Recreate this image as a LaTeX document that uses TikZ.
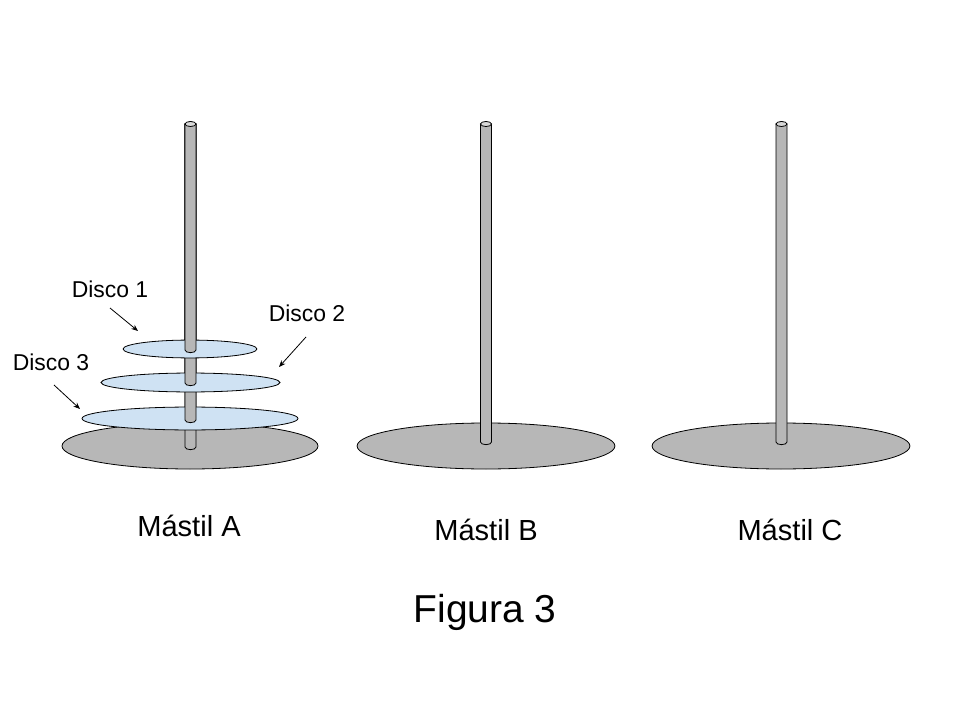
\documentclass[tikz,border=0pt]{standalone}
\usepackage{fontspec}
\setmainfont{Liberation Sans}
\usetikzlibrary{arrows.meta}
\definecolor{basegray}{HTML}{B7B7B7}
\definecolor{rodgray}{HTML}{B7B7B7}
\definecolor{rodtop}{HTML}{D9D9D9}
\definecolor{discblue}{HTML}{CFE2F3}
\tikzset{
  basestyle/.style={fill=basegray, draw=black, line width=0.6pt},
  discstyle/.style={fill=discblue, draw=black, line width=0.6pt},
  rodstyle/.style={fill=rodgray, draw=black, line width=0.6pt},
  rodtopstyle/.style={fill=rodtop, draw=black, line width=0.6pt},
  arr/.style={-{Stealth[length=5pt,width=4pt]}, line width=0.6pt},
  smalllabel/.style={font=\fontsize{17.2pt}{20pt}\selectfont, inner sep=0pt},
  mastlabel/.style={font=\fontsize{21.8pt}{26pt}\selectfont, inner sep=0pt},
  figlabel/.style={font=\fontsize{29.2pt}{34pt}\selectfont, inner sep=0pt}
}
% rod segment: #1 = x center, #2 = top y, #3 = bottom y
\newcommand{\rodseg}[3]{%
  \path[rodstyle] (#1-5.5,#2) -- (#1-5.5,#3)
    arc[start angle=180, end angle=360, x radius=4.125pt, y radius=2pt]
    -- (#1+5.5,#2) -- cycle;}
\newcommand{\rodcap}[2]{%
  \path[rodtopstyle] (#1,#2) ellipse [x radius=4.125pt, y radius=1.9pt];}
\begin{document}
\begin{tikzpicture}[x=0.75pt,y=-0.75pt]
\useasboundingbox (0,0) rectangle (960,720);
\fill[white] (0,0) rectangle (960,720);

% ---- Mast A ----
\path[basestyle] (190,446) ellipse [x radius=96pt, y radius=17.25pt];
\rodseg{190.5}{124}{447}
\path[discstyle] (190,418.5) ellipse [x radius=81pt, y radius=8.6pt];
\rodseg{190.5}{124}{420}
\path[discstyle] (190.5,382.5) ellipse [x radius=67.1pt, y radius=7.1pt];
\rodseg{190.5}{124}{383}
\path[discstyle] (190,349) ellipse [x radius=50.2pt, y radius=6.7pt];
\rodseg{190.5}{124}{350}
\rodcap{190.5}{124}

% ---- Mast B ----
\path[basestyle] (486,446) ellipse [x radius=96.7pt, y radius=17.25pt];
\rodseg{486}{124}{442}
\rodcap{486}{124}

% ---- Mast C ----
\path[basestyle] (781,446) ellipse [x radius=96.7pt, y radius=17.25pt];
\rodseg{781.5}{124}{442}
\rodcap{781.5}{124}

% ---- labels ----
\node[smalllabel] (d1) at (110,289) {Disco 1};
\node[smalllabel] (d2) at (307,313) {Disco 2};
\node[smalllabel] (d3) at (51,362) {Disco 3};
\coordinate (a1s) at (110,308);
\coordinate (a1e) at (138,331);
\coordinate (a2s) at (306,337);
\coordinate (a2e) at (279,367);
\coordinate (a3s) at (54,385);
\coordinate (a3e) at (80,409);
\draw[arr] (a1s) -- (a1e);
\draw[arr] (a2s) -- (a2e);
\draw[arr] (a3s) -- (a3e);

\node[mastlabel] (ma) at (189,526) {Mástil A};
\node[mastlabel] (mb) at (486,530) {Mástil B};
\node[mastlabel] (mc) at (790,530) {Mástil C};
\node[figlabel] (fig) at (485,612) {Figura 3};
\end{tikzpicture}
\end{document}
